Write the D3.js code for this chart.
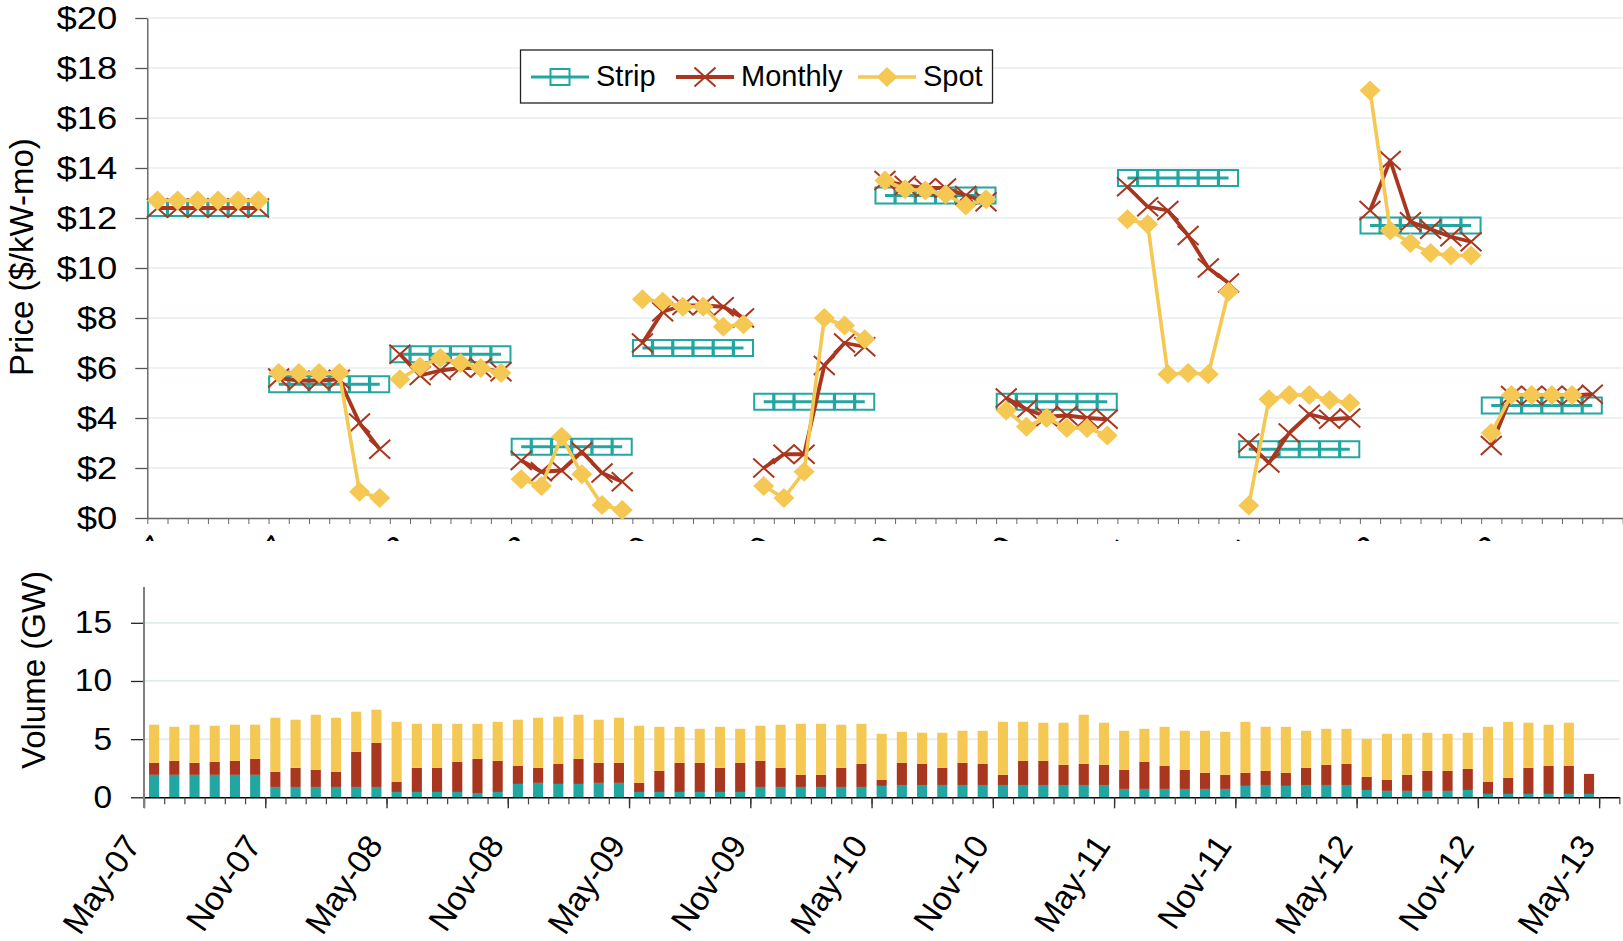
<!DOCTYPE html>
<html lang="en">
<head>
<meta charset="UTF-8">
<title>Capacity prices and volumes</title>
<script src="https://d3js.org/d3.v7.min.js"></script>
<style>
  body { margin: 0; background: #fff; }
  svg { display: block; font-family: "Liberation Sans", Arial, sans-serif; }
</style>
</head>
<body>
<svg id="chart" width="1623" height="941"></svg>
<script>
    // category axis: one slot per month, May-07 .. May-13, labelled every 6 months
    var tickLabels = ['May-07', 'Nov-07', 'May-08', 'Nov-08', 'May-09', 'Nov-09', 'May-10',
        'Nov-10', 'May-11', 'Nov-11', 'May-12', 'Nov-12', 'May-13'];
    var monthCount = 73;
    var tickEvery = 6;

    // prices ($/kW-mo), index 0 = May-07
    var stripPrice = [
        12.4, 12.4, 12.4, 12.4, 12.4, 12.4,
        5.35, 5.35, 5.35, 5.35, 5.35, 5.35,
        6.55, 6.55, 6.55, 6.55, 6.55, 6.55,
        2.85, 2.85, 2.85, 2.85, 2.85, 2.85,
        6.8, 6.8, 6.8, 6.8, 6.8, 6.8,
        4.65, 4.65, 4.65, 4.65, 4.65, 4.65,
        12.9, 12.9, 12.9, 12.9, 12.9, 12.9,
        4.65, 4.65, 4.65, 4.65, 4.65, 4.65,
        13.6, 13.6, 13.6, 13.6, 13.6, 13.6,
        2.75, 2.75, 2.75, 2.75, 2.75, 2.75,
        11.7, 11.7, 11.7, 11.7, 11.7, 11.7,
        4.5, 4.5, 4.5, 4.5, 4.5, 4.5
    ];
    var monthlyPrice = [
        12.4, 12.4, 12.4, 12.4, 12.4, 12.4,
        5.6, 5.5, 5.5, 5.55, 3.8, 2.75,
        6.55, 5.7, 5.9, 6.0, 6.0, 5.85,
        2.3, 1.85, 1.9, 2.65, 1.8, 1.45,
        7.0, 8.25, 8.5, 8.5, 8.45, 8.0,
        2.0, 2.55, 2.55, 6.1, 7.0, 6.85,
        13.5, 13.3, 13.2, 13.2, 12.9, 12.65,
        4.8, 4.35, 4.05, 4.1, 4.0, 3.95,
        13.25, 12.45, 12.3, 11.3, 10.0, 9.4,
        3.0, 2.2, 3.4, 4.15, 3.95, 4.0,
        12.3, 14.3, 11.85, 11.55, 11.25, 11.05,
        2.9, 4.9, 4.9, 4.9, 4.9, 4.95
    ];
    var spotPrice = [
        12.7, 12.7, 12.7, 12.7, 12.7, 12.7,
        5.8, 5.8, 5.8, 5.8, 1.05, 0.8,
        5.55, 6.05, 6.4, 6.2, 6.0, 5.8,
        1.55, 1.28, 3.25, 1.75, 0.52, 0.32,
        8.75, 8.65, 8.45, 8.45, 7.65, 7.75,
        1.28, 0.8, 1.85, 8.0, 7.7, 7.15,
        13.5, 13.15, 13.1, 12.95, 12.5, 12.75,
        4.3, 3.65, 4.0, 3.6, 3.6, 3.3,
        11.95, 11.75, 5.75, 5.8, 5.75, 9.05,
        0.5, 4.75, 4.92, 4.92, 4.72, 4.6,
        17.1, 11.5, 11.0, 10.6, 10.5, 10.5,
        3.4, 4.92, 4.92, 4.92, 4.92, null
    ];

    // volumes (GW), stacked strip / monthly / spot
    var stripVol = [
        1.93, 1.93, 1.93, 1.93, 1.93, 1.93, 0.89, 0.89, 0.89, 0.89, 0.89, 0.89,
        0.46, 0.46, 0.46, 0.46, 0.37, 0.46, 1.15, 1.24, 1.15, 1.15, 1.24, 1.24,
        0.46, 0.46, 0.46, 0.46, 0.46, 0.46, 0.89, 0.89, 0.89, 0.89, 0.89, 0.89,
        0.98, 1.06, 1.06, 1.06, 1.06, 1.06, 1.06, 1.06, 1.06, 1.06, 1.06, 1.06,
        0.72, 0.72, 0.72, 0.72, 0.72, 0.72, 0.98, 1.06, 0.98, 1.06, 1.06, 1.06,
        0.63, 0.55, 0.55, 0.55, 0.55, 0.63, 0.29, 0.29, 0.29, 0.29, 0.29, 0.29
    ];
    var monthlyVol = [
        1.03, 1.20, 1.03, 1.12, 1.20, 1.37, 1.29, 1.64, 1.47, 1.29, 3.02, 3.79,
        0.86, 2.07, 2.07, 2.59, 2.93, 2.67, 1.55, 1.29, 1.72, 2.15, 1.72, 1.72,
        0.78, 1.81, 2.50, 2.50, 2.07, 2.50, 2.24, 1.64, 1.04, 1.04, 1.64, 1.98,
        0.51, 1.90, 1.81, 1.47, 1.90, 1.81, 0.87, 2.07, 2.07, 1.73, 1.81, 1.73,
        1.64, 2.33, 1.98, 1.64, 1.38, 1.21, 1.12, 1.21, 1.12, 1.47, 1.73, 1.81,
        1.12, 0.94, 1.38, 1.72, 1.72, 1.81, 1.03, 1.38, 2.24, 2.41, 2.41, 1.72
    ];
    var spotVol = [
        3.28, 2.93, 3.28, 3.10, 3.11, 2.94, 4.66, 4.14, 4.74, 4.66, 3.45, 2.85,
        5.17, 3.79, 3.79, 3.27, 3.02, 3.36, 3.97, 4.31, 4.06, 3.80, 3.71, 3.88,
        4.91, 3.79, 3.10, 2.93, 3.53, 2.93, 3.02, 3.71, 4.39, 4.39, 3.71, 3.45,
        3.97, 2.67, 2.68, 3.02, 2.76, 2.85, 4.56, 3.36, 3.28, 3.62, 4.23, 3.62,
        3.36, 2.84, 3.36, 3.36, 3.62, 3.70, 4.39, 3.79, 3.96, 3.19, 3.10, 3.02,
        3.28, 3.97, 3.53, 3.28, 3.19, 3.11, 4.74, 4.82, 3.88, 3.54, 3.71, 0
    ];

    var colors = {strip: '#22a6a1', monthly: '#a9361f', spot: '#f5c853'};
    var gridColor = '#d9e5e5';
    var band = 20.21; // px per month

    var svg = d3.select('#chart');

    // stretch tick text sideways a little, like the original
    function styleTickText(g, size, stretch, pad) {
        g.selectAll('.tick text')
            .attr('font-size', size)
            .attr('fill', '#000')
            .attr('x', -pad / stretch)
            .attr('transform', 'scale(' + stretch + ',1)');
    }

    // ---------------- price panel ----------------
    var topLeft = 147.3;
    var xTop = d3.scaleBand().domain(d3.range(monthCount))
        .range([topLeft, topLeft + monthCount * band]).paddingInner(0.5).paddingOuter(0.25);
    var xTopLin = d3.scaleLinear().domain([0, monthCount]).range([topLeft, topLeft + monthCount * band]);
    var yTop = d3.scaleLinear().domain([0, 20]).range([518, 18]);
    var cx = i => xTop(i) + xTop.bandwidth() / 2;

    svg.append('g').selectAll('line')
        .data(d3.range(2, 21, 2))
        .enter().append('line')
        .attr('x1', topLeft).attr('x2', topLeft + monthCount * band)
        .attr('y1', d => yTop(d)).attr('y2', d => yTop(d))
        .attr('stroke', gridColor).attr('stroke-width', 1.2);

    // x labels of the price panel, mostly hidden behind the volume panel
    svg.append('clipPath').attr('id', 'topLabelClip')
        .append('rect').attr('x', 0).attr('y', 519).attr('width', 1623).attr('height', 22);
    svg.append('g').attr('clip-path', 'url(#topLabelClip)')
        .selectAll('text')
        .data(tickLabels.slice(0, -1))
        .enter().append('text')
        .attr('text-anchor', 'end')
        .attr('font-size', 33)
        .attr('transform', (d, i) => 'translate(' + (xTopLin(i * tickEvery) + 22) + ',546) rotate(-56)')
        .text(d => d);

    var gTopX = svg.append('g').attr('transform', 'translate(0,518)')
        .call(d3.axisBottom(xTopLin).tickValues(d3.range(monthCount + 1)).tickSize(6).tickSizeOuter(0).tickFormat(''));
    gTopX.select('.domain').attr('stroke', '#666').attr('stroke-width', 1.3);
    gTopX.selectAll('.tick line').attr('stroke', '#666');

    var gTopY = svg.append('g').attr('transform', 'translate(' + topLeft + ',0)')
        .call(d3.axisLeft(yTop).tickValues(d3.range(0, 21, 2)).tickSize(12).tickSizeOuter(0)
            .tickFormat(d => '$' + d));
    gTopY.select('.domain').attr('stroke', '#555').attr('stroke-width', 1.3);
    gTopY.selectAll('.tick line').attr('stroke', '#555').attr('stroke-width', 1.3);
    styleTickText(gTopY, 32, 1.14, 30);

    svg.append('text')
        .attr('transform', 'translate(21,257) rotate(-90)')
        .attr('text-anchor', 'middle').attr('dy', '0.35em')
        .attr('font-size', 33)
        .text('Price ($/kW-mo)');

    var markers = {
        strip: function (g) {
            g.append('rect').attr('x', -9.5).attr('y', -8).attr('width', 19).attr('height', 16)
                .attr('fill', 'none').attr('stroke', colors.strip).attr('stroke-width', 2);
        },
        monthly: function (g) {
            g.append('path').attr('d', 'M-10.5,-9.5L10.5,9.5M-10.5,9.5L10.5,-9.5')
                .attr('stroke', colors.monthly).attr('stroke-width', 2).attr('fill', 'none');
        },
        spot: function (g) {
            g.append('path').attr('d', 'M0,-10L10.5,0L0,10L-10.5,0Z').attr('fill', colors.spot);
        }
    };

    var priceSeries = [
        {key: 'strip', values: stripPrice, width: 3},
        {key: 'monthly', values: monthlyPrice, width: 3.8},
        {key: 'spot', values: spotPrice, width: 3.6}
    ];

    var line = d3.line().defined(d => d.v !== null).x(d => cx(d.i)).y(d => yTop(d.v));

    priceSeries.forEach(function (s) {
        var pts = s.values.map((v, i) => ({i: i, v: v}));
        var periods = d3.groups(pts, d => Math.floor(d.i / tickEvery)).map(p => p[1]);
        var g = svg.append('g').attr('class', 'series-' + s.key);
        g.selectAll('path.line')
            .data(periods)
            .enter().append('path')
            .attr('class', 'line')
            .attr('d', line)
            .attr('fill', 'none')
            .attr('stroke', colors[s.key])
            .attr('stroke-width', s.width)
            .attr('stroke-linejoin', 'round');
        g.selectAll('g.mark')
            .data(pts.filter(d => d.v !== null))
            .enter().append('g')
            .attr('class', 'mark')
            .attr('transform', d => 'translate(' + cx(d.i) + ',' + yTop(d.v) + ')')
            .each(function () { markers[s.key](d3.select(this)); });
    });

    // legend
    var legend = svg.append('g');
    legend.append('rect').attr('x', 520.5).attr('y', 50).attr('width', 472).attr('height', 53)
        .attr('fill', '#fff').attr('stroke', '#222').attr('stroke-width', 1.3);
    var legendItems = [
        {key: 'strip', label: 'Strip', x: 531, w: 3},
        {key: 'monthly', label: 'Monthly', x: 676, w: 3.8},
        {key: 'spot', label: 'Spot', x: 858, w: 3.6}
    ];
    legendItems.forEach(function (d) {
        var g = legend.append('g').attr('transform', 'translate(' + d.x + ',77)');
        g.append('line').attr('x1', 0).attr('x2', 58).attr('stroke', colors[d.key]).attr('stroke-width', d.w);
        markers[d.key](g.append('g').attr('transform', 'translate(29,0)'));
        g.append('text').attr('x', 65).attr('y', 9).attr('font-size', 29).text(d.label);
    });

    // ---------------- volume panel ----------------
    var botLeft = 144;
    var xBot = d3.scaleBand().domain(d3.range(monthCount))
        .range([botLeft, botLeft + monthCount * band]).paddingInner(0.5).paddingOuter(0.25);
    var xBotLin = d3.scaleLinear().domain([0, monthCount]).range([botLeft, botLeft + monthCount * band]);
    var yBot = d3.scaleLinear().domain([0, 18]).range([797.3, 587.9]);

    svg.append('g').selectAll('line')
        .data([5, 10, 15])
        .enter().append('line')
        .attr('x1', botLeft).attr('x2', botLeft + monthCount * band)
        .attr('y1', d => yBot(d)).attr('y2', d => yBot(d))
        .attr('stroke', gridColor).attr('stroke-width', 1.2);

    var volRows = stripVol.map((v, i) => ({i: i, strip: v, monthly: monthlyVol[i], spot: spotVol[i]}));
    var stacked = d3.stack().keys(['strip', 'monthly', 'spot'])(volRows);

    svg.append('g').selectAll('g')
        .data(stacked)
        .enter().append('g')
        .attr('fill', d => colors[d.key])
        .selectAll('rect')
        .data(d => d)
        .enter().append('rect')
        .attr('x', d => xBot(d.data.i))
        .attr('width', xBot.bandwidth())
        .attr('y', d => yBot(d[1]))
        .attr('height', d => yBot(d[0]) - yBot(d[1]));

    var gBotX = svg.append('g').attr('transform', 'translate(0,797.3)')
        .call(d3.axisBottom(xBotLin).tickValues(d3.range(monthCount + 1)).tickSize(7).tickSizeOuter(0).tickFormat(''));
    gBotX.select('.domain').attr('stroke', '#000').attr('stroke-width', 1.5);
    gBotX.selectAll('.tick line').attr('stroke', '#444').attr('stroke-width', 1.2);

    var gBotMajor = svg.append('g').attr('transform', 'translate(0,797.3)')
        .call(d3.axisBottom(xBotLin).tickValues(d3.range(0, monthCount + 1, tickEvery)).tickSize(11)
            .tickSizeOuter(0).tickFormat((d, i) => tickLabels[i]));
    gBotMajor.select('.domain').remove();
    gBotMajor.selectAll('.tick line').attr('stroke', '#333').attr('stroke-width', 1.4);
    gBotMajor.selectAll('.tick text')
        .attr('font-size', 33).attr('fill', '#000')
        .attr('text-anchor', 'end')
        .attr('x', 0).attr('y', 0).attr('dy', 0)
        .attr('transform', 'translate(-3,48) rotate(-56)');

    var gBotY = svg.append('g').attr('transform', 'translate(' + botLeft + ',0)')
        .call(d3.axisLeft(yBot).tickValues([0, 5, 10, 15]).tickSize(13).tickSizeOuter(0));
    gBotY.select('.domain').remove();
    gBotY.selectAll('.tick line').attr('stroke', '#222').attr('stroke-width', 1.3);
    styleTickText(gBotY, 31, 1.08, 32);
    gBotY.append('line').attr('x1', 0).attr('x2', 0).attr('y1', 587).attr('y2', 808)
        .attr('stroke', '#808080').attr('stroke-width', 2);

    svg.append('text')
        .attr('transform', 'translate(33,670) rotate(-90)')
        .attr('text-anchor', 'middle').attr('dy', '0.35em')
        .attr('font-size', 33)
        .text('Volume (GW)');
</script>
</body>
</html>
